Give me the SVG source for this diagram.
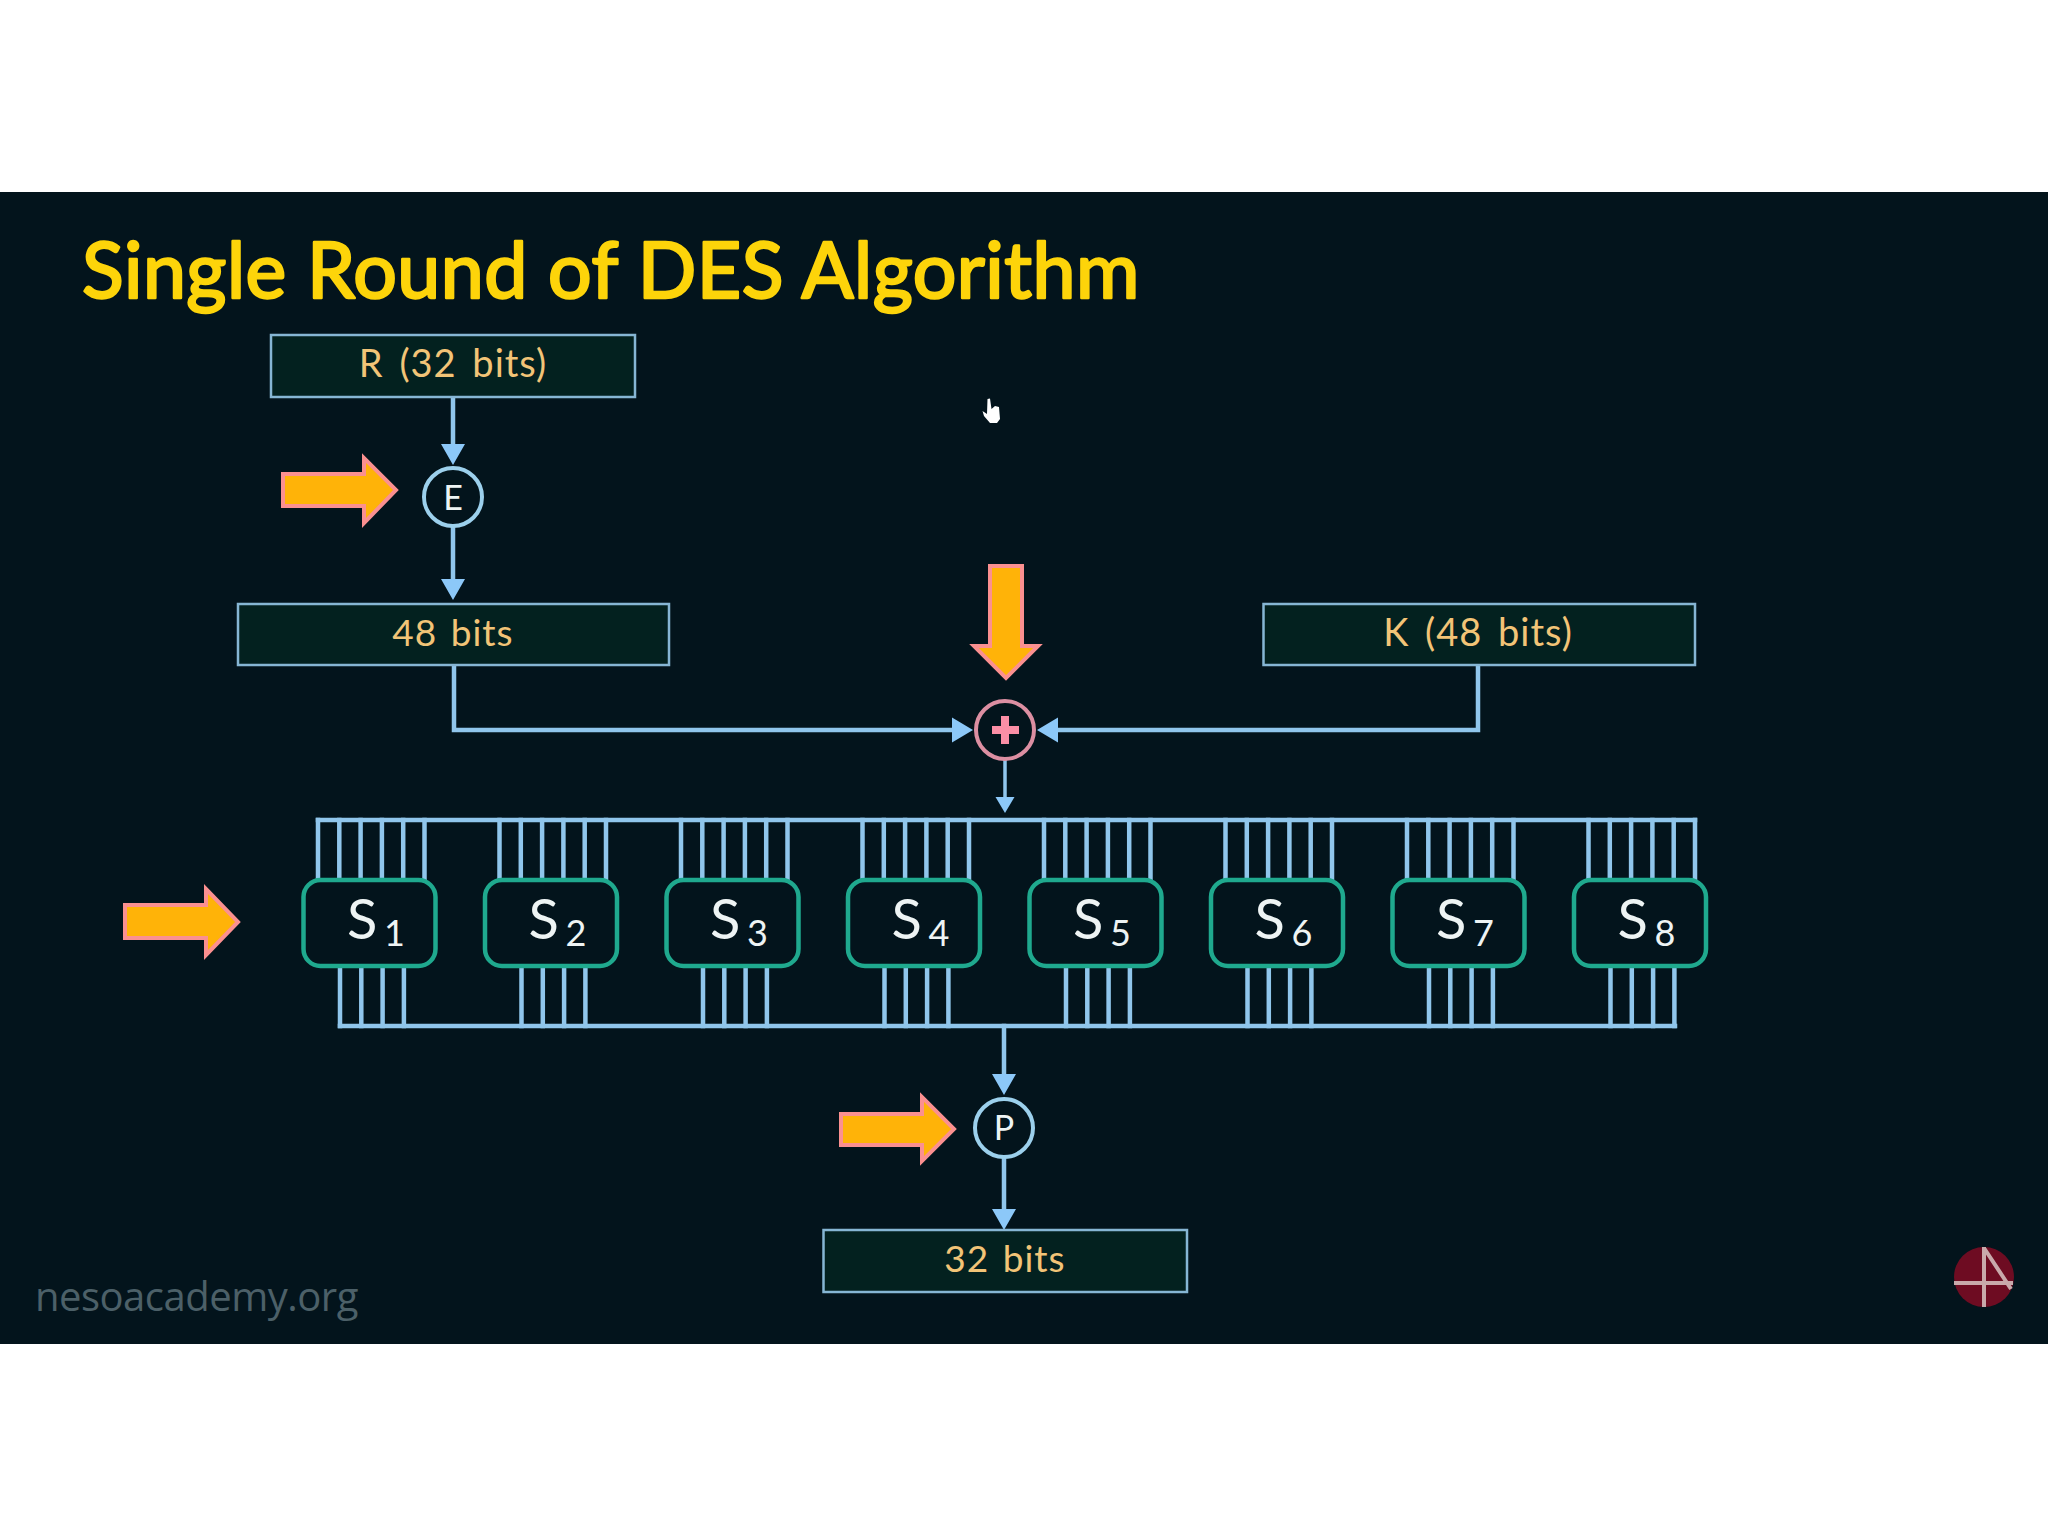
<svg xmlns="http://www.w3.org/2000/svg" xmlns:xlink="http://www.w3.org/1999/xlink" width="2048" height="1536" viewBox="0 0 2048 1536">
<style>
.wire{fill:none;stroke:#90c6ec;stroke-width:4.5;stroke-linecap:square}
.thin{fill:none;stroke:#90c6ec;stroke-width:3.5}
.head{fill:#8cc8f8}
.box{fill:#03211f;stroke:#86b6d4;stroke-width:2.500}
.circ{fill:#03141c;stroke:#9cd0ec;stroke-width:4}
.blk{fill:#ffb308;stroke:#fb9090;stroke-width:4}
.lbl{font-family:"Lato","Liberation Sans",sans-serif;font-size:37px;fill:#f2c477;text-anchor:middle;letter-spacing:1px;word-spacing:3px}
.wide{font-size:38px;word-spacing:5px}
.sbox{fill:#03141c;stroke:#1fa98e;stroke-width:4.5}
.st{font-family:"Lato","Liberation Sans",sans-serif;fill:#eef4f4}
</style>
<defs>
<g id="topw"><path class="wire" d="M318 820V880M339.300 820V880M360.600 820V880M381.900 820V880M403.200 820V880M424.500 820V880"/></g>
<g id="botw"><path class="wire" d="M340 966V1026M361.300 966V1026M382.600 966V1026M403.900 966V1026"/></g>
</defs>
<rect width="2048" height="1536" fill="#ffffff"/>
<rect y="192" width="2048" height="1152" fill="#03141c"/>
<text id="title" x="82" y="298" font-family="Lato,'Liberation Sans',sans-serif" font-weight="400" font-size="77" letter-spacing="0.500" fill="#fdd40a" stroke="#fdd40a" stroke-width="2.500" stroke-linejoin="round">Single Round of DES Algorithm</text>
<g id="connectors">
<path class="wire" d="M453 397V446M453 527V581M454 665V730H954M1478 665V730H1056M1004 1026V1076M1004 1158V1211"/>
<path class="thin" d="M1005 760V799"/>
<path class="wire" d="M318 820H1695M340 1026H1675"/>
<use xlink:href="#topw"/><use xlink:href="#topw" x="181.500"/><use xlink:href="#topw" x="363"/><use xlink:href="#topw" x="544.500"/><use xlink:href="#topw" x="726"/><use xlink:href="#topw" x="907.500"/><use xlink:href="#topw" x="1089"/><use xlink:href="#topw" x="1270.500"/>
<use xlink:href="#botw"/><use xlink:href="#botw" x="181.500"/><use xlink:href="#botw" x="363"/><use xlink:href="#botw" x="544.500"/><use xlink:href="#botw" x="726"/><use xlink:href="#botw" x="907.500"/><use xlink:href="#botw" x="1089"/><use xlink:href="#botw" x="1270.500"/>
<path class="head" d="M441 444H465L453 465ZM441 579H465L453 600ZM952 717.500V742.500L973 730ZM1058 717.500V742.500L1037 730ZM995.500 797H1014.500L1005 813ZM992 1074H1016L1004 1095ZM992 1209H1016L1004 1230Z"/>
</g>
<g id="node-r"><rect class="box" x="271" y="335" width="364" height="62"/><text class="lbl wide" x="453" y="377">R (32 bits)</text></g>
<g id="node-e"><circle class="circ" cx="453" cy="497" r="29"/><text class="st" x="453" y="510" font-size="34" text-anchor="middle">E</text></g>
<g id="node-48"><rect class="box" x="238" y="604" width="431" height="61"/><text class="lbl" x="453" y="646">48 bits</text></g>
<g id="node-k"><rect class="box" x="1263.500" y="604" width="431.500" height="61"/><text class="lbl wide" x="1478" y="646">K (48 bits)</text></g>
<g id="node-xor"><circle cx="1005" cy="730" r="29" fill="#03141c" stroke="#dc8fa2" stroke-width="4"/><path d="M992 730H1019M1005 716V744" fill="none" stroke="#fb8fa6" stroke-width="8"/></g>
<g id="node-s1"><rect class="sbox" x="303.500" y="880" width="132" height="86" rx="17"/><text class="st" x="347" y="939" font-size="56">S</text><text class="st" x="384" y="946" font-size="36">1</text></g>
<g id="node-s2"><rect class="sbox" x="485" y="880" width="132" height="86" rx="17"/><text class="st" x="528.500" y="939" font-size="56">S</text><text class="st" x="565.500" y="946" font-size="36">2</text></g>
<g id="node-s3"><rect class="sbox" x="666.500" y="880" width="132" height="86" rx="17"/><text class="st" x="710" y="939" font-size="56">S</text><text class="st" x="747" y="946" font-size="36">3</text></g>
<g id="node-s4"><rect class="sbox" x="848" y="880" width="132" height="86" rx="17"/><text class="st" x="891.500" y="939" font-size="56">S</text><text class="st" x="928.500" y="946" font-size="36">4</text></g>
<g id="node-s5"><rect class="sbox" x="1029.500" y="880" width="132" height="86" rx="17"/><text class="st" x="1073" y="939" font-size="56">S</text><text class="st" x="1110" y="946" font-size="36">5</text></g>
<g id="node-s6"><rect class="sbox" x="1211" y="880" width="132" height="86" rx="17"/><text class="st" x="1254.500" y="939" font-size="56">S</text><text class="st" x="1291.500" y="946" font-size="36">6</text></g>
<g id="node-s7"><rect class="sbox" x="1392.500" y="880" width="132" height="86" rx="17"/><text class="st" x="1436" y="939" font-size="56">S</text><text class="st" x="1473" y="946" font-size="36">7</text></g>
<g id="node-s8"><rect class="sbox" x="1574" y="880" width="132" height="86" rx="17"/><text class="st" x="1617.500" y="939" font-size="56">S</text><text class="st" x="1654.500" y="946" font-size="36">8</text></g>
<g id="node-p"><circle class="circ" cx="1004" cy="1128" r="29"/><text class="st" x="1004" y="1140" font-size="34" text-anchor="middle">P</text></g>
<g id="node-32"><rect class="box" x="823.500" y="1230" width="363.500" height="62"/><text class="lbl" x="1005" y="1272">32 bits</text></g>
<g id="highlights">
<path class="blk" d="M283 474H364V458L396 490L364 523V506H283Z"/>
<path class="blk" d="M125 905H206V889L238 922L206 955V938H125Z"/>
<path class="blk" d="M841 1114H922V1097L954 1129L922 1161V1145H841Z"/>
<path class="blk" d="M990 566H1022V646H1038L1006 678L974 646H990Z"/>
</g>
<g id="cursor"><path fill="#ffffff" d="M987.500 399L990 398.500L991.500 409L995 406L999 407L1000 419L997 423H990L984 416L982.500 411L987 414Z"/></g>
<text id="site" x="35" y="1311" font-family="'Open Sans','Liberation Sans',sans-serif" font-size="40" letter-spacing="-0.500" fill="#4c6068">nesoacademy.org</text>
<g id="logo"><circle cx="1984" cy="1277" r="30" fill="#6e0c22"/><path d="M1984 1247V1307M1954 1283H2013M1984 1248L2011 1289" fill="none" stroke="#c9a9ab" stroke-width="4"/></g>
</svg>
